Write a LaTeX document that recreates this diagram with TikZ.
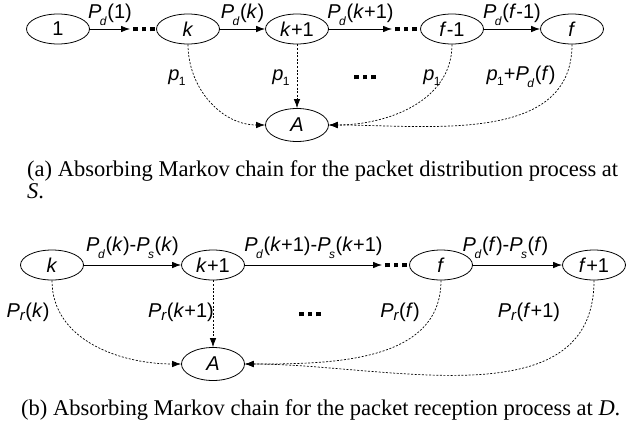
\documentclass[tikz,border=0pt]{standalone}
\usepackage{fontspec}
\setmainfont{Liberation Serif}
\setsansfont{Liberation Sans}
\usetikzlibrary{shapes.geometric, positioning, arrows.meta}

% lowered subscripts as used in the chain labels
\newcommand{\dsub}[1]{\kern-1.5pt\raisebox{-7.5pt}{\fontsize{12}{12}\selectfont #1}\kern0.5pt}
\newcommand{\nsub}[1]{\kern-0.5pt\raisebox{-5.5pt}{\fontsize{12}{12}\selectfont #1}}
\newcommand{\rsub}[1]{\raisebox{-3pt}{\fontsize{15}{15}\selectfont #1}}
\newcommand{\Pd}[1]{\textit{P}\dsub{\textit{d}}(#1)}
\newcommand{\Ps}[1]{\textit{P}\dsub{\textit{s}}(#1)}
\newcommand{\Prr}[1]{\textit{P}\rsub{\textit{r}}(#1)}
\newcommand{\pone}{\textit{p}\nsub{1}}
\newcommand{\sqdots}{\rule{4.5pt}{4.5pt}\hspace{4pt}\rule{4.5pt}{4.5pt}\hspace{4pt}\rule{4.5pt}{4.5pt}}

\tikzset{
x=1pt, y=1pt,
>={Latex[length=9pt,width=6.5pt]}, % filled triangular heads
node distance=109pt, % centre to centre, used with right of / below of
chainstate/.style={draw, ellipse, line width=0.8pt, minimum width=63pt, minimum height=30pt, inner sep=0pt, font=\sffamily\fontsize{20}{20}\selectfont},
absorb/.style={minimum height=33pt},
dotsnode/.style={inner xsep=3pt, inner ysep=0pt},
elab/.style={anchor=base, inner sep=0pt, font=\sffamily\fontsize{20}{20}\selectfont},
plab/.style={anchor=base, inner sep=0pt, font=\sffamily\fontsize{20}{20}\selectfont},
stepline/.style={->, line width=0.8pt},
absorbline/.style={->, line width=0.7pt, dash pattern=on 2pt off 1.6pt},
capnode/.style={anchor=base west, inner sep=0pt, font=\fontsize{22.5}{26}\selectfont},
}

\begin{document}
\begin{tikzpicture}
\useasboundingbox (0,0) rectangle (626,-423);

% (a) distribution chain
\node[chainstate] (a1) at (58,-29) {1};
\node[dotsnode, node distance=86pt, right of=a1] (adots1) {\sqdots};
\node[chainstate, node distance=44pt, right of=adots1] (ak) {\textit{k}};
\node[chainstate, right of=ak] (ak1) {\textit{k}+1};
\node[dotsnode, right of=ak1] (adots2) {\sqdots};
\node[chainstate, node distance=46pt, right of=adots2] (af1) {\textit{f}-1};
\node[chainstate, node distance=120pt, right of=af1] (af) {\textit{f}};
\node[chainstate, absorb, node distance=96pt, below of=ak1] (aA) {\textit{A}};
\draw
(a1) edge[stepline] node[elab, yshift=11pt]{\Pd{1}} (adots1)
(ak) edge[stepline] node[elab, yshift=11pt]{\Pd{\textit{k}}} (ak1)
(ak1) edge[stepline] node[elab, yshift=11pt]{\Pd{\textit{k}+1}} (adots2)
(af1) edge[stepline] node[elab, yshift=11pt]{\Pd{\textit{f}-1}} (af)
(ak.south) edge[absorbline, out=-90, in=180] (aA.west)
(ak1) edge[absorbline] (aA)
(af1.south) edge[absorbline, out=-90, in=0] (aA.east)
(af.south) edge[absorbline, out=-90, in=0] (aA.east)
;
\node[plab] (ap1) at (177,-80) {\pone};
\node[plab] (ap2) at (281,-80) {\pone};
\node (amid) at (365,-77) {\sqdots};
\node[plab] (ap3) at (432,-80) {\pone};
\node[plab] (ap4) at (521,-80) {\pone+\Pd{\textit{f}}};

\node[capnode] (capa) at (27,-176) {\makebox[591pt][s]{(a) Absorbing Markov chain for the packet distribution process at}};
\node[capnode] (capa2) at (27,-198) {\textit{S}.};

% (b) reception chain
\node[chainstate] (bk) at (52,-265) {\textit{k}};
\node[chainstate, node distance=161pt, right of=bk] (bk1) {\textit{k}+1};
\node[dotsnode, node distance=183pt, right of=bk1] (bdots) {\sqdots};
\node[chainstate, node distance=45pt, right of=bdots] (bf) {\textit{f}};
\node[chainstate, node distance=153pt, right of=bf] (bf1) {\textit{f}+1};
\node[chainstate, absorb, node distance=99pt, below of=bk1] (bA) {\textit{A}};
\draw
(bk) edge[stepline] node[elab, yshift=14pt]{\Pd{\textit{k}}-\Ps{\textit{k}}} (bk1)
(bk1) edge[stepline] node[elab, yshift=14pt]{\Pd{\textit{k}+1}-\Ps{\textit{k}+1}} (bdots)
(bf) edge[stepline] node[elab, yshift=14pt, xshift=-12pt]{\Pd{\textit{f}}-\Ps{\textit{f}}} (bf1)
(bk.south) edge[absorbline, out=-90, in=180] (bA.west)
(bk1) edge[absorbline] (bA)
(bf.south) edge[absorbline, out=-90, in=0] (bA.east)
(bf1.south) edge[absorbline, out=-90, in=0] (bA.east)
;
\node[plab] (bp1) at (28,-317) {\Prr{\textit{k}}};
\node[plab] (bp2) at (181,-317) {\Prr{\textit{k}+1}};
\node (bmid) at (310,-314) {\sqdots};
\node[plab] (bp3) at (400,-317) {\Prr{\textit{f}}};
\node[plab] (bp4) at (529,-317) {\Prr{\textit{f}+1}};

\node[capnode] (capb) at (21,-415) {(b) Absorbing Markov chain for the packet reception process at \textit{D}.};
\end{tikzpicture}
\end{document}
